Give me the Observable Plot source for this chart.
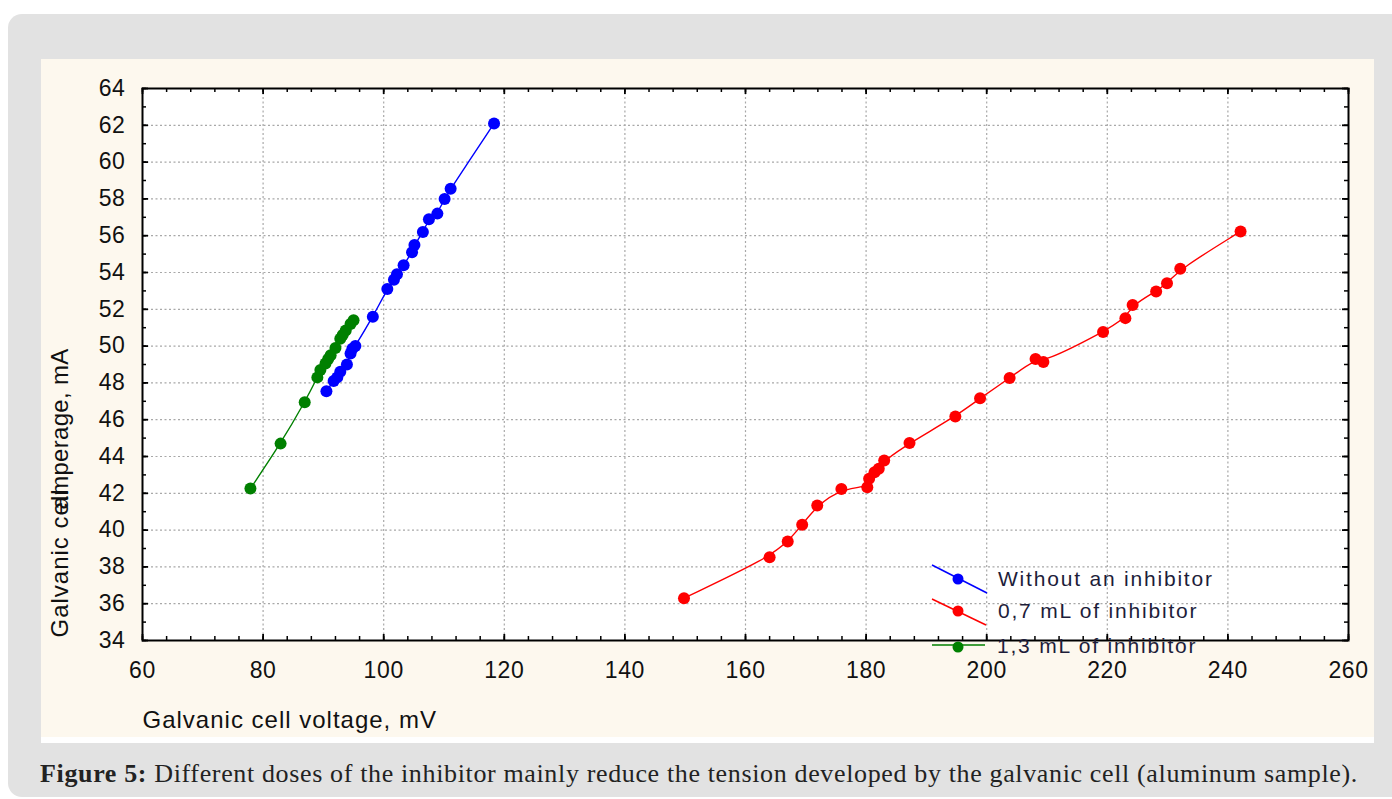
<!DOCTYPE html>
<html><head><meta charset="utf-8">
<script src="https://cdn.jsdelivr.net/npm/d3@7"></script>
<script src="https://cdn.jsdelivr.net/npm/@observablehq/plot@0.6"></script>
<style>
html,body{margin:0;padding:0;background:#fff;width:1392px;height:799px;overflow:hidden;}
#card{position:absolute;left:8px;top:14px;width:1420px;height:783px;background:#e2e2e2;border-radius:14px;}
#panel{position:absolute;left:41px;top:59px;width:1333px;height:678px;background:#fdf8ee;border-bottom:6px solid #ffffff;}
#chart{position:absolute;left:41px;top:59px;}
#legend{position:absolute;left:0;top:0;pointer-events:none;}
#caption{position:absolute;left:40px;top:761px;font-family:"Liberation Serif","DejaVu Serif",serif;font-size:26px;color:#222;white-space:nowrap;line-height:26px;}
</style></head>
<body>
<div id="card"></div>
<div id="panel"></div>
<div id="chart"></div>
<svg id="legend" width="1392" height="799"></svg>
<div id="caption"><b>Figure 5:</b> Different doses of the inhibitor mainly reduce the tension developed by the galvanic cell (aluminum sample).</div>
<script>
// ---- data ----
const seriesNames = ["Without an inhibitor", "0,7 mL of inhibitor", "1,3 mL of inhibitor"];
const seriesColors = ["#0000ff", "#ff0000", "#008000"];

const noneX = [90.5, 91.7, 92.3, 92.8, 93.9, 94.5, 94.8, 95.3, 98.2, 100.6, 101.7, 102.2, 103.3, 104.7, 105.1, 106.5, 107.5, 108.9, 110.1, 111.1, 118.3];
const noneY = [47.55, 48.1, 48.3, 48.6, 49.0, 49.6, 49.85, 50.0, 51.6, 53.1, 53.6, 53.9, 54.4, 55.1, 55.5, 56.2, 56.9, 57.2, 58.0, 58.55, 62.1];

const doseLowX = [149.8, 164.0, 167.0, 169.4, 171.9, 175.9, 180.2, 180.5, 181.4, 182.1, 183.0, 187.2, 194.8, 198.9, 203.8, 208.1, 209.4, 219.3, 223.0, 224.2, 228.1, 229.9, 232.1, 242.1];
const doseLowY = [36.30, 38.53, 39.38, 40.29, 41.34, 42.24, 42.33, 42.79, 43.15, 43.33, 43.78, 44.73, 46.17, 47.17, 48.26, 49.30, 49.13, 50.76, 51.52, 52.24, 52.97, 53.42, 54.20, 56.23];

const doseHighX = [77.9, 82.9, 86.9, 89.0, 89.5, 90.35, 90.8, 91.2, 92.0, 92.8, 93.2, 93.7, 94.5, 95.0];
const doseHighY = [42.26, 44.7, 46.95, 48.3, 48.7, 49.05, 49.3, 49.5, 49.9, 50.4, 50.6, 50.85, 51.2, 51.4];

const xTickValues = [60, 80, 100, 120, 140, 160, 180, 200, 220, 240, 260];
const yTickValues = [34, 36, 38, 40, 42, 44, 46, 48, 50, 52, 54, 56, 58, 60, 62, 64];
const xMinorTicks = d3.range(60, 260.1, 4);
const yMinorTicks = d3.range(34, 64.1, 1);

const xLabel = "Galvanic cell voltage, mV";
const yLabelA = "Galvanic cell";
const yLabelB = "amperage, mA";

// ---- table ----
const rows = [];
[[noneX, noneY], [doseLowX, doseLowY], [doseHighX, doseHighY]].forEach(([xs, ys], k) => {
  xs.forEach((v, i) => rows.push({series: seriesNames[k], x: v, y: ys[i]}));
});

const W = 1333, H = 684;
const mL = 101, mR = 26, mT = 29, mB = 103;
const fw = W - mL - mR, fh = H - mT - mB;

const chart = Plot.plot({
  width: W, height: H,
  marginLeft: mL, marginRight: mR, marginTop: mT, marginBottom: mB,
  style: {background: "transparent", fontFamily: "'Liberation Sans', Arial, sans-serif", fontSize: "23px", color: "#111", overflow: "visible"},
  x: {domain: [60, 260], ticks: xTickValues, tickSize: 0, tickPadding: 21, label: null},
  y: {domain: [34, 64], ticks: yTickValues, tickSize: 0, tickPadding: 17, label: null},
  color: {domain: seriesNames, range: seriesColors},
  marks: [
    Plot.frame({fill: "white", stroke: null}),
    Plot.ruleX(xTickValues.slice(1, -1), {stroke: "#a8a8a8", strokeWidth: 1.2, strokeDasharray: "2,2.5"}),
    Plot.ruleY(yTickValues.slice(1, -1), {stroke: "#a8a8a8", strokeWidth: 1.2, strokeDasharray: "2,2.5"}),
    Plot.ruleX(xMinorTicks, {insetTop: fh - 4, stroke: "black", strokeWidth: 1.5}),
    Plot.ruleX(xMinorTicks, {insetBottom: fh - 4, stroke: "black", strokeWidth: 1.5}),
    Plot.ruleY(yMinorTicks, {insetLeft: fw - 4, stroke: "black", strokeWidth: 1.5}),
    Plot.ruleY(yMinorTicks, {insetRight: fw - 4, stroke: "black", strokeWidth: 1.5}),
    Plot.ruleX(xTickValues, {insetTop: fh - 6, stroke: "black", strokeWidth: 1.8}),
    Plot.ruleX(xTickValues, {insetBottom: fh - 6, stroke: "black", strokeWidth: 1.8}),
    Plot.ruleY(yTickValues, {insetLeft: fw - 6, stroke: "black", strokeWidth: 1.8}),
    Plot.ruleY(yTickValues, {insetRight: fw - 6, stroke: "black", strokeWidth: 1.8}),
    Plot.line(rows, {x: "x", y: "y", z: "series", stroke: "series", curve: "basis", strokeWidth: 1.4}),
    Plot.dot(rows, {x: "x", y: "y", fill: "series", r: 6}),
    Plot.frame({stroke: "black", strokeWidth: 2}),
    Plot.text([xLabel], {frameAnchor: "bottom-left", text: d => d, textAnchor: "start", lineAnchor: "bottom", dy: 87, fontSize: 24, fill: "#111"}),
    Plot.text([yLabelA], {frameAnchor: "bottom-left", text: d => d, textAnchor: "start", lineAnchor: "bottom", rotate: -90, dx: -75, dy: -3, fontSize: 24, fill: "#111"}),
    Plot.text([yLabelB], {frameAnchor: "top-left", text: d => d, textAnchor: "end", lineAnchor: "bottom", rotate: -90, dx: -75, dy: 260, fontSize: 24, fill: "#111"})
  ]
});
document.getElementById("chart").appendChild(chart);

// letter spacing tweaks
d3.select(chart).selectAll("text").each(function() {
  const t = this.textContent;
  if (t === xLabel || t === yLabelA) this.setAttribute("letter-spacing", "1px");
  else if (t === yLabelB) this.setAttribute("letter-spacing", "0.3px");
  else this.setAttribute("letter-spacing", "0.6px");
});

// ---- legend (inside plot area, lower right) ----
const leg = d3.select("#legend");
const legendRows = [
  {line: [[932, 565], [987, 593]], dot: [958, 579], tx: 998, ty: 586},
  {line: [[932, 599], [986, 625]], dot: [958, 611], tx: 998, ty: 618},
  {line: [[932, 645], [985, 645]], dot: [958, 647], tx: 997, ty: 653}
];
legendRows.forEach((r, i) => {
  leg.append("line").attr("x1", r.line[0][0]).attr("y1", r.line[0][1]).attr("x2", r.line[1][0]).attr("y2", r.line[1][1])
    .attr("stroke", seriesColors[i]).attr("stroke-width", 1.5);
  leg.append("circle").attr("cx", r.dot[0]).attr("cy", r.dot[1]).attr("r", 5.5).attr("fill", seriesColors[i]);
  leg.append("text").attr("x", r.tx).attr("y", r.ty).text(seriesNames[i])
    .attr("font-family", "'Liberation Sans', Arial, sans-serif").attr("font-size", 21)
    .attr("letter-spacing", "1.8px").attr("fill", "#1d1d3a");
});

// ---- caption width fit ----
const cap = document.getElementById("caption");
const target = 1318;
const w = cap.getBoundingClientRect().width;
const n = cap.textContent.length;
cap.style.letterSpacing = ((target - w) / n).toFixed(3) + "px";
</script>
</body></html>
